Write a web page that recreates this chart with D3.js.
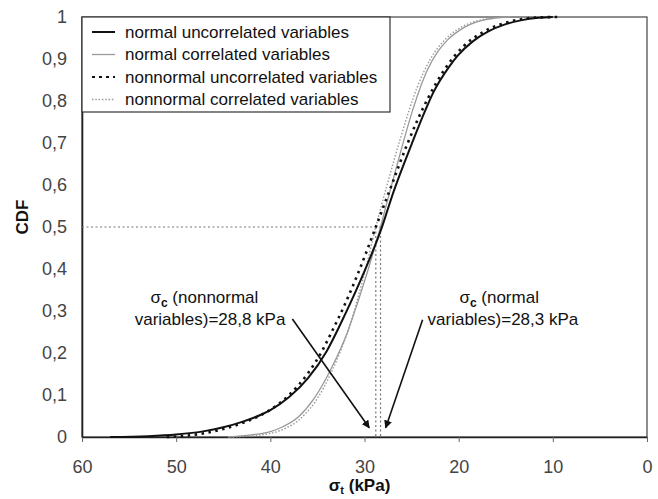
<!DOCTYPE html>
<html>
<head>
<meta charset="utf-8">
<script src="https://cdn.jsdelivr.net/npm/d3@7"></script>
<style>
  body { margin: 0; background: #fff; }
  svg { display: block; font-family: "Liberation Sans", Arial, sans-serif; }
</style>
</head>
<body>
<svg id="chart" width="658" height="499"></svg>
<script>
// values (sigma_t in kPa, CDF)
const xTicks = [60, 50, 40, 30, 20, 10, 0];
const yTicks = [0, 0.1, 0.2, 0.3, 0.4, 0.5, 0.6, 0.7, 0.8, 0.9, 1];
const seriesNames = [
  "normal uncorrelated variables",
  "normal correlated variables",
  "nonnormal uncorrelated variables",
  "nonnormal correlated variables"
];

const sigmaNormUncorr = [57, 53, 50, 47, 45, 43, 41, 40, 38, 36, 34, 32, 30, 28.3, 26.9, 25, 23.5, 22.7, 21, 20.1, 18.5, 16.9, 15, 13.4, 11.5, 10];
const cdfNormUncorr = [0, 0.002, 0.006, 0.014, 0.023, 0.036, 0.053, 0.064, 0.095, 0.14, 0.205, 0.295, 0.395, 0.49, 0.585, 0.697, 0.78, 0.82, 0.882, 0.908, 0.942, 0.965, 0.983, 0.992, 0.998, 1];

const sigmaNormCorr = [44.5, 42, 40, 38.9, 37, 35.4, 33.6, 31.8, 30.8, 29.8, 28.3, 27.3, 26.2, 25, 23.3, 22.2, 21.2, 20, 18.7, 17.5, 16.3, 14.5];
const cdfNormCorr = [0, 0.005, 0.013, 0.022, 0.048, 0.09, 0.16, 0.25, 0.315, 0.385, 0.5, 0.585, 0.676, 0.77, 0.875, 0.918, 0.945, 0.967, 0.983, 0.992, 0.997, 1];

const sigmaNonUncorr = [51, 49, 47, 45, 43, 41, 40, 38, 36, 34.5, 33.6, 32, 30.5, 28.8, 27.2, 25.5, 23.3, 21.5, 19.5, 17.5, 15.5, 13.5, 11.5, 9.5];
const cdfNonUncorr = [0, 0.003, 0.009, 0.019, 0.033, 0.052, 0.065, 0.1, 0.152, 0.205, 0.245, 0.32, 0.4, 0.5, 0.595, 0.695, 0.805, 0.875, 0.93, 0.963, 0.983, 0.994, 0.999, 1];

const sigmaNonCorr = [44, 41, 39, 37, 35.2, 33.5, 31.5, 30, 28.8, 27.6, 26.2, 24.4, 23, 21.5, 20, 18.5, 16.5, 14.5];
const cdfNonCorr = [0, 0.005, 0.015, 0.04, 0.085, 0.155, 0.27, 0.39, 0.5, 0.6, 0.71, 0.833, 0.9, 0.945, 0.972, 0.988, 0.997, 1];

const sigmaCNonnormal = 28.8;
const sigmaCNormal = 28.3;

const svg = d3.select("#chart");
const margin = {left: 82, right: 11, top: 17, bottom: 62};
const W = 658, H = 499;

const x = d3.scaleLinear().domain([60, 0]).range([margin.left, W - margin.right]);
const y = d3.scaleLinear().domain([0, 1]).range([H - margin.bottom, margin.top]);

// plot frame
svg.append("rect")
  .attr("x", x(60)).attr("y", y(1))
  .attr("width", x(0) - x(60)).attr("height", y(0) - y(1))
  .attr("fill", "none").attr("stroke", "#444").attr("stroke-width", 1.2);

// x axis
const xAxis = svg.append("g")
  .attr("transform", `translate(0,${y(0)})`)
  .call(d3.axisBottom(x).tickValues(xTicks).tickSize(5).tickSizeOuter(0).tickPadding(18));
xAxis.select(".domain").attr("stroke", "#222").attr("stroke-width", 1.6);
xAxis.selectAll(".tick line").attr("stroke", "#666");
xAxis.selectAll(".tick text").attr("font-size", 18).attr("fill", "#444")
  .attr("font-family", "Liberation Sans, Arial, sans-serif");

// y axis
const yAxis = svg.append("g")
  .attr("transform", `translate(${x(60)},0)`)
  .call(d3.axisLeft(y).tickValues(yTicks).tickSize(0).tickPadding(15)
    .tickFormat(d => d3.format("~g")(d).replace(".", ",")));
yAxis.select(".domain").attr("stroke", "#222").attr("stroke-width", 1.6);
yAxis.selectAll(".tick text").attr("font-size", 18).attr("fill", "#444")
  .attr("font-family", "Liberation Sans, Arial, sans-serif");

// axis titles
svg.append("text")
  .attr("x", (x(60) + x(0)) / 2 - 5).attr("y", 491)
  .attr("text-anchor", "middle").attr("font-size", 17).attr("font-weight", "bold").attr("fill", "#111")
  .html('σ<tspan font-size="11" dy="3">t</tspan><tspan dy="-3"> (kPa)</tspan>');
svg.append("text")
  .attr("transform", `translate(28,217) rotate(-90)`)
  .attr("text-anchor", "middle").attr("font-size", 17).attr("font-weight", "bold").attr("fill", "#111")
  .text("CDF");

// reading lines at CDF = 0.5
const guide = svg.append("g").attr("stroke", "#777").attr("stroke-width", 1.2).attr("stroke-dasharray", "2,2.5");
guide.append("line").attr("x1", x(60)).attr("x2", x(sigmaCNormal)).attr("y1", y(0.5)).attr("y2", y(0.5));
[sigmaCNonnormal, sigmaCNormal].forEach(s => {
  guide.append("line").attr("x1", x(s)).attr("x2", x(s)).attr("y1", y(0.5)).attr("y2", y(0));
});

// curves
const line = d3.line().x(d => x(d[0])).y(d => y(d[1])).curve(d3.curveMonotoneX);
const styles = [
  {stroke: "#111", width: 2, dash: null, legDash: null},
  {stroke: "#999", width: 1.3, dash: null, legDash: null},
  {stroke: "#111", width: 2.6, dash: "2.5,4.5", legDash: "3,4"},
  {stroke: "#999", width: 1.4, dash: "1.5,1.8", legDash: "1.5,1.8"}
];
const curves = [
  d3.zip(sigmaNormUncorr, cdfNormUncorr),
  d3.zip(sigmaNormCorr, cdfNormCorr),
  d3.zip(sigmaNonUncorr, cdfNonUncorr),
  d3.zip(sigmaNonCorr, cdfNonCorr)
];
[3, 1, 0, 2].forEach(i => {
  svg.append("path")
    .attr("d", line(curves[i]))
    .attr("fill", "none")
    .attr("stroke", styles[i].stroke)
    .attr("stroke-width", styles[i].width)
    .attr("stroke-dasharray", styles[i].dash);
});

// annotations with arrows
svg.append("defs").append("marker")
  .attr("id", "arrow").attr("viewBox", "0 0 10 10")
  .attr("refX", 9).attr("refY", 5)
  .attr("markerWidth", 5).attr("markerHeight", 5)
  .attr("orient", "auto")
  .append("path").attr("d", "M0,0L10,5L0,10z").attr("fill", "#111");

const notes = [
  {l1: " (nonnormal", l2: "variables)=28,8 kPa", x1: 47.0, x2: 46.4, from: [37.66, 0.281], to: [29.5, 0.022]},
  {l1: " (normal", l2: "variables)=28,3 kPa", x1: 15.7, x2: 15.3, from: [23.83, 0.279], to: [27.75, 0.022]}
];
notes.forEach(n => {
  svg.append("text")
    .attr("x", x(n.x1)).attr("y", y(0.318))
    .attr("text-anchor", "middle").attr("font-size", 17).attr("fill", "#111")
    .html(`σ<tspan font-size="12" font-weight="bold" dy="4">c</tspan><tspan dy="-4">${n.l1}</tspan>`);
  svg.append("text")
    .attr("x", x(n.x2)).attr("y", y(0.266))
    .attr("text-anchor", "middle").attr("font-size", 17).attr("fill", "#111")
    .text(n.l2);
  svg.append("line")
    .attr("x1", x(n.from[0])).attr("y1", y(n.from[1]))
    .attr("x2", x(n.to[0])).attr("y2", y(n.to[1]))
    .attr("stroke", "#111").attr("stroke-width", 1.6)
    .attr("marker-end", "url(#arrow)");
});

// legend
const leg = svg.append("g").attr("transform", `translate(${x(60)},${y(1)})`);
leg.append("rect").attr("width", 308).attr("height", 95)
  .attr("fill", "#fff").attr("stroke", "#333").attr("stroke-width", 1.2);
seriesNames.forEach((name, i) => {
  const g = leg.append("g").attr("transform", `translate(0,${15 + i * 22.5})`);
  g.append("line").attr("x1", 10).attr("x2", 33).attr("y1", 0).attr("y2", 0)
    .attr("stroke", styles[i].stroke)
    .attr("stroke-width", Math.min(styles[i].width, 2))
    .attr("stroke-dasharray", styles[i].legDash);
  g.append("text").attr("x", 43).attr("y", 0).attr("dy", "0.35em")
    .attr("font-size", 17).attr("fill", "#111").text(name);
});
</script>
</body>
</html>
